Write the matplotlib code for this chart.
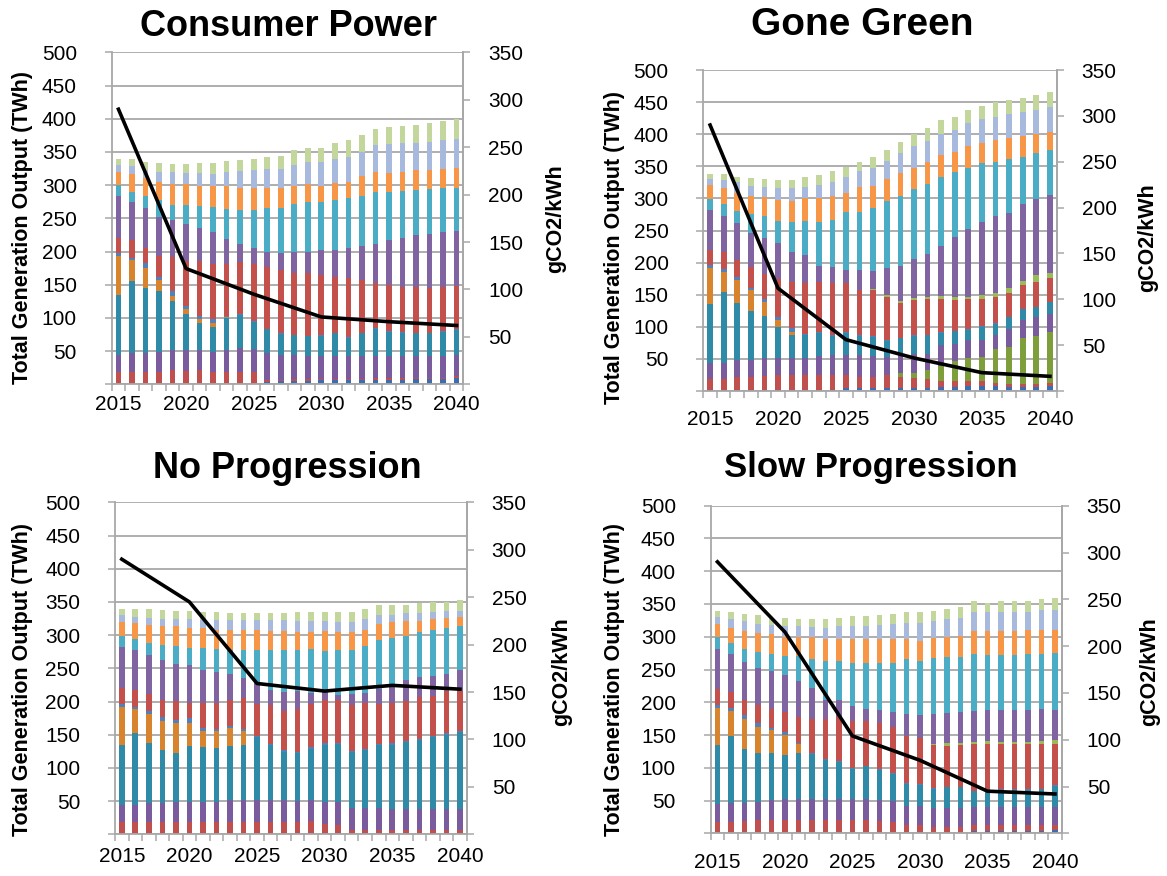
import numpy as np
import matplotlib
matplotlib.use("Agg")
import matplotlib.pyplot as plt

plt.rcParams["font.family"] = ["Liberation Sans", "DejaVu Sans"]

YEARS = list(range(2015, 2041))
LINE_YEARS = [2015, 2020, 2025, 2030, 2035, 2040]

# ---------------- Consumer Power (TWh, bottom to top) ----------------
CP_OTHER = [1,1,1,1,1,1,1,1,1,1,1,4,5,5,5,6,6,6,6,7,7,7,8,8,8,10]
CP_BIOMASS = [17,17,17,18,21,19,21,18,18,17,18,3,2,3,3,2,2,2,2,2,2,2,2,2,2,3]
CP_CCS = [0]*26
CP_HYDRO = [26,29,29,30,30,31,29,30,33,36,34,40,37,36,35,35,34,34,34,33,33,33,32,32,32,31]
CP_GAS = [91,108,98,91,74,55,42,37,48,50,41,36,32,30,29,30,35,28,35,42,37,36,35,35,37,38]
CP_COAL = [58,32,30,17,7,7,5,6,1,0,0,0,0,0,0,0,0,0,0,0,0,0,0,0,0,0]
CP_OIL = [4,3,7,5,7,5,5,6,2,2,1,1,1,1,1,1,1,1,1,1,1,1,1,1,1,1]
CP_INTERCONNECT = [24,27,24,31,52,67,82,83,78,78,86,93,95,92,95,90,84,89,79,68,69,67,68,67,67,65]
CP_STORAGE = [0]*26
CP_NUCLEAR = [62,57,59,59,55,56,51,49,38,27,24,22,25,33,32,38,40,45,52,59,68,75,79,82,83,83]
CP_OFFSHORE = [17,16,18,25,23,29,33,37,45,51,57,66,68,71,74,72,76,75,75,77,72,70,68,67,66,65]
CP_ONSHORE = [20,26,28,28,32,31,30,31,34,34,34,31,31,27,28,25,25,25,29,31,29,29,29,28,28,30]
CP_SOLAR = [10,13,12,15,18,17,19,19,22,25,26,28,29,32,33,36,37,38,37,40,44,44,42,43,44,43]
CP_RENEW = [10,11,12,14,12,14,16,17,16,17,18,19,19,23,21,21,24,25,26,25,25,25,27,28,29,30]
CP_CARBON = [290, 122, 95, 71, 66, 62]

# ---------------- Gone Green ----------------
GG_OTHER = [1,1,1,1,1,1,1,1,1,1,4,4,4,4,4,4,5,7,7,8,8,8,7,7,7,8]
GG_BIOMASS = [17,17,21,21,22,24,24,24,24,24,21,18,18,21,18,16,13,8,9,7,7,4,4,4,4,4]
GG_CCS = [0,0,0,0,0,0,0,0,0,0,0,0,0,0,6,8,15,24,30,36,38,54,58,71,74,80]
GG_HYDRO = [26,26,27,27,28,27,27,27,30,31,31,34,33,28,28,30,25,33,27,28,27,21,27,29,31,28]
GG_GAS = [91,110,88,75,66,48,35,36,36,30,35,30,29,25,26,28,29,19,20,16,20,18,19,16,15,18]
GG_COAL = [56,32,36,34,21,11,5,0,0,0,0,0,0,0,0,0,0,0,0,0,0,0,0,0,0,0]
GG_OIL = [5,4,4,3,5,5,6,1,1,1,1,1,1,1,1,1,1,1,1,1,1,1,0,0,0,0]
GG_INTERCONNECT = [24,27,27,32,40,59,72,79,78,82,76,70,72,68,54,55,55,52,48,47,43,40,38,38,39,38]
GG_STORAGE = [0,0,0,0,0,0,0,0,0,0,1,1,2,2,3,3,3,4,4,4,5,6,7,7,11,8]
GG_NUCLEAR = [62,56,58,53,56,55,47,44,24,24,19,30,28,43,54,60,67,78,94,105,115,120,118,119,118,121]
GG_OFFSHORE = [17,18,19,30,33,35,47,53,70,73,91,91,98,104,110,109,109,108,101,96,91,85,83,74,71,70]
GG_ONSHORE = [22,25,27,28,30,33,32,35,36,38,30,38,34,34,35,34,35,34,32,33,32,34,33,32,30,29]
GG_SOLAR = [9,13,17,15,16,18,20,18,21,21,25,25,28,29,31,33,32,32,33,36,36,36,37,38,38,38]
GG_RENEW = [8,9,9,13,12,13,13,16,15,17,15,15,17,17,18,19,20,22,21,21,21,23,22,22,23,23]
GG_CARBON = [290, 112, 56, 36, 20, 16]

# ---------------- No Progression ----------------
NP_OTHER = [1,1,1,1,1,1,1,1,1,1,1,1,1,2,2,2,2,2,2,2,2,2,2,2,2,2]
NP_BIOMASS = [17,17,18,17,17,18,17,18,18,18,18,18,18,17,18,13,12,5,5,5,5,5,5,5,5,5]
NP_CCS = [0]*26
NP_HYDRO = [26,26,28,29,31,30,31,30,32,33,33,33,32,31,32,33,34,32,32,32,31,31,31,31,31,31]
NP_GAS = [91,108,91,80,74,84,82,81,82,83,95,83,73,72,77,87,88,85,88,95,97,101,104,108,112,116]
NP_COAL = [56,37,43,44,44,35,24,25,27,21,0,0,0,0,0,0,0,0,0,0,0,0,0,0,0,0]
NP_OIL = [5,3,5,5,5,7,5,3,3,2,1,1,3,2,2,2,2,2,2,2,2,2,2,2,2,2]
NP_INTERCONNECT = [24,26,25,27,29,22,37,40,40,48,48,59,59,64,65,65,65,68,68,60,61,60,63,61,64,60]
NP_STORAGE = [0]*26
NP_NUCLEAR = [62,60,59,60,56,58,50,47,39,30,32,22,29,28,17,14,7,18,16,23,24,31,30,30,26,31]
NP_OFFSHORE = [17,16,18,22,26,25,33,34,35,41,49,60,62,62,66,60,67,65,71,74,73,66,67,69,69,66]
NP_ONSHORE = [20,24,27,28,30,30,30,29,30,30,30,29,29,27,26,30,27,27,24,23,24,23,17,16,15,14]
NP_SOLAR = [11,10,11,12,12,14,13,14,15,15,15,16,16,16,16,15,16,16,16,15,12,13,13,11,10,9]
NP_RENEW = [9,11,13,13,11,12,12,13,12,12,12,12,12,14,14,14,15,15,15,14,14,12,14,15,14,17]
NP_CARBON = [290, 245, 159, 151, 157, 153]

# ---------------- Slow Progression ----------------
SP_OTHER = [1,1,1,1,1,1,1,1,1,1,1,1,1,1,1,1,1,1,1,3,3,3,3,3,3,5]
SP_BIOMASS = [17,17,18,19,20,20,20,20,20,20,19,19,18,17,12,12,9,9,9,10,10,10,10,10,10,8]
SP_CCS = [0]*26
SP_HYDRO = [26,28,28,28,30,31,31,31,31,31,32,32,32,32,28,28,28,28,28,27,27,27,27,27,27,27]
SP_GAS = [91,103,82,75,72,68,70,69,60,57,46,50,46,41,35,33,30,32,32,24,26,26,26,26,27,32]
SP_COAL = [56,37,46,40,34,30,14,0,0,0,0,0,0,0,0,0,0,0,0,0,0,0,0,0,0,0]
SP_OIL = [5,5,5,5,4,4,2,1,1,1,1,1,1,1,1,1,1,1,1,1,1,1,1,1,1,2]
SP_INTERCONNECT = [24,25,24,28,29,31,39,52,62,68,72,68,70,71,71,70,66,63,64,71,70,69,69,69,69,63]
SP_STORAGE = [0,0,0,0,0,0,0,0,0,0,0,0,0,0,0,0,2,4,3,4,4,4,4,4,4,5]
SP_NUCLEAR = [62,58,58,57,58,57,56,48,28,26,24,19,20,22,34,36,45,45,47,47,47,48,48,48,48,46]
SP_OFFSHORE = [17,16,20,24,26,29,37,44,60,59,65,70,72,75,84,82,85,86,84,86,84,84,84,85,84,87]
SP_ONSHORE = [20,24,27,28,30,28,29,33,34,34,37,37,37,37,31,31,31,30,32,35,37,36,36,37,38,36]
SP_SOLAR = [11,13,15,15,14,17,17,16,17,19,19,19,21,23,24,27,26,28,27,29,29,29,30,28,30,30]
SP_RENEW = [9,10,11,13,10,13,11,12,13,13,15,16,15,15,16,16,16,16,17,17,14,17,17,17,16,18]
SP_CARBON = [290, 215, 104, 78, 45, 42]

LAYER_COLORS = ["#3B6DB3", "#C0504D", "#7E9E3C", "#7A5C9E", "#2E8AA6", "#D8842F",
                "#4F81BD", "#C4504C", "#9BBB59", "#8064A2", "#4BACC6", "#F79646",
                "#A7B9DD", "#C3D69B"]
GRID = "#A8A8A8"

panels = [
    dict(title="Consumer Power", title_size=26,
         layers=[CP_OTHER, CP_BIOMASS, CP_CCS, CP_HYDRO, CP_GAS, CP_COAL, CP_OIL,
                 CP_INTERCONNECT, CP_STORAGE, CP_NUCLEAR, CP_OFFSHORE, CP_ONSHORE,
                 CP_SOLAR, CP_RENEW],
         carbon=CP_CARBON, box=(111.7, 52.3, 463.3, 384.3), xpad=8,
         title_xy=(289, 27), ylab_xy=(23, 228), rlab_xy=(556, 219)),
    dict(title="Gone Green", title_size=28,
         layers=[GG_OTHER, GG_BIOMASS, GG_CCS, GG_HYDRO, GG_GAS, GG_COAL, GG_OIL,
                 GG_INTERCONNECT, GG_STORAGE, GG_NUCLEAR, GG_OFFSHORE, GG_ONSHORE,
                 GG_SOLAR, GG_RENEW],
         carbon=GG_CARBON, box=(703.3, 70.0, 1056.7, 391.0), xpad=14,
         title_xy=(862, 25), ylab_xy=(614, 248), rlab_xy=(1148, 238)),
    dict(title="No Progression", title_size=26,
         layers=[NP_OTHER, NP_BIOMASS, NP_CCS, NP_HYDRO, NP_GAS, NP_COAL, NP_OIL,
                 NP_INTERCONNECT, NP_STORAGE, NP_NUCLEAR, NP_OFFSHORE, NP_ONSHORE,
                 NP_SOLAR, NP_RENEW],
         carbon=NP_CARBON, box=(115.0, 502.3, 466.7, 834.3), xpad=9,
         title_xy=(287, 468), ylab_xy=(23, 680), rlab_xy=(562, 672)),
    dict(title="Slow Progression", title_size=25,
         layers=[SP_OTHER, SP_BIOMASS, SP_CCS, SP_HYDRO, SP_GAS, SP_COAL, SP_OIL,
                 SP_INTERCONNECT, SP_STORAGE, SP_NUCLEAR, SP_OFFSHORE, SP_ONSHORE,
                 SP_SOLAR, SP_RENEW],
         carbon=SP_CARBON, box=(710.7, 505.7, 1061.7, 833.3), xpad=14,
         title_xy=(871, 468), ylab_xy=(614, 680), rlab_xy=(1150, 672)),
]

W, H = 1167, 876
fig = plt.figure(figsize=(W / 100, H / 100), dpi=100)
fig.patch.set_facecolor("white")

x = np.arange(len(YEARS))
line_x = [YEARS.index(y) for y in LINE_YEARS]

for p in panels:
    x0, y0, x1, y1 = p["box"]
    ax = fig.add_axes([x0 / W, 1 - y1 / H, (x1 - x0) / W, (y1 - y0) / H])
    ax.set_facecolor("white")

    bottom = np.zeros(len(YEARS))
    for vals, col in zip(p["layers"], LAYER_COLORS):
        v = np.asarray(vals, dtype=float)
        ax.bar(x, v, bottom=bottom, width=0.42, color=col, linewidth=0, zorder=2)
        bottom += v

    ax.set_xlim(-0.5, len(YEARS) - 0.5)
    ax.set_ylim(0, 500)
    ax.set_yticks(np.arange(0, 501, 50))
    ax.set_yticklabels(["" if t == 0 else str(t) for t in range(0, 501, 50)])
    ax.yaxis.grid(True, color=GRID, linewidth=1.3, zorder=0)
    ax.set_axisbelow(True)
    ax.set_xticks(x[::5])
    ax.set_xticklabels([str(y) for y in YEARS[::5]])
    ax.set_xticks(np.arange(-0.5, len(YEARS), 1.0), minor=True)
    ax.tick_params(axis="x", which="major", length=0, pad=p["xpad"], labelsize=15)
    ax.tick_params(axis="x", which="minor", length=5, width=1.1, color=GRID, direction="out")
    ax.tick_params(axis="y", length=5, width=1.1, color=GRID, pad=20, labelsize=15)
    for side in ("left", "bottom", "right"):
        ax.spines[side].set_color(GRID)
        ax.spines[side].set_linewidth(1.3)
    ax.spines["top"].set_visible(False)

    ax2 = ax.twinx()
    ax2.set_ylim(0, 350)
    ax2.set_yticks(np.arange(0, 351, 50))
    ax2.set_yticklabels(["" if t == 0 else str(t) for t in range(0, 351, 50)])
    ax2.tick_params(axis="y", length=5, width=1.1, color=GRID, pad=13, labelsize=15)
    for side in ("left", "bottom", "top"):
        ax2.spines[side].set_visible(False)
    ax2.spines["right"].set_color(GRID)
    ax2.spines["right"].set_linewidth(1.3)
    ax2.plot(line_x, p["carbon"], color="black", linewidth=2.6, zorder=5,
             solid_joinstyle="round")

    tx, ty = p["title_xy"]
    fig.text(tx / W, 1 - ty / H, p["title"], ha="center", va="center",
             fontsize=p["title_size"], fontweight="bold")
    lx, ly = p["ylab_xy"]
    fig.text(lx / W, 1 - ly / H, "Total Generation Output (TWh)", ha="center",
             va="center", rotation=90, fontsize=15.5, fontweight="bold")
    rx, ry = p["rlab_xy"]
    fig.text(rx / W, 1 - ry / H, "gCO2/kWh", ha="center", va="center",
             rotation=90, fontsize=15.5, fontweight="bold")

fig.savefig("out.png", dpi=100, facecolor="white")
